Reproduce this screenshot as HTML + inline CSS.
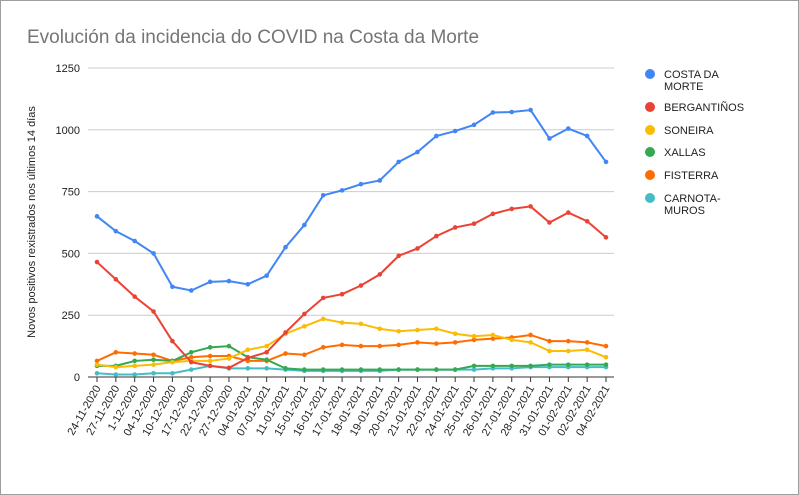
<!DOCTYPE html>
<html><head><meta charset="utf-8"><style>
body{margin:0;background:#fff}
svg{display:block;font-family:"Liberation Sans",Arial,sans-serif}
</style></head><body>
<svg id="s" width="799" height="495" xmlns="http://www.w3.org/2000/svg">
<rect x="0.5" y="0.5" width="798" height="494" fill="#fff" stroke="#9e9e9e"/>
<text x="27" y="43" font-size="19" fill="#757575">Evolución da incidencia do COVID na Costa da Morte</text>
<text transform="translate(35,222) rotate(-90)" font-size="11" fill="#222" text-anchor="middle">Novos positivos rexistrados nos últimos 14 días</text>
<g id="g"></g>
</svg>
<script>
const g=document.getElementById('g');
const ns='http://www.w3.org/2000/svg';
let h='';
const x0=97,dx=509/27,Y=v=>377-v*309/1250;
[0,250,500,750,1000,1250].forEach(v=>{
 const y=Y(v);
 if(v>0)h+=`<line x1="88" x2="614" y1="${y}" y2="${y}" stroke="#ccc"/>`;
 h+=`<text x="80" y="${y+4}" font-size="11" text-anchor="end" fill="#222">${v}</text>`;
});
h+=`<line x1="88" x2="614" y1="377" y2="377" stroke="#333"/>`;
const d=["24-11-2020","27-11-2020","1-12-2020","04-12-2020","10-12-2020","17-12-2020","22-12-2020","27-12-2020","04-01-2021","07-01-2021","11-01-2021","15-01-2021","16-01-2021","17-01-2021","18-01-2021","19-01-2021","20-01-2021","21-01-2021","22-01-2021","24-01-2021","25-01-2021","26-01-2021","27-01-2021","28-01-2021","31-01-2021","01-02-2021","02-02-2021","04-02-2021"];
d.forEach((t,i)=>{const x=x0+dx*i;
 h+=`<line x1="${x}" x2="${x}" y1="377" y2="382" stroke="#333"/>`;
 h+=`<text transform="translate(${x+4},388) rotate(-60)" font-size="11" text-anchor="end" fill="#222">${t}</text>`;});
const S=[
["#4285f4",[650,590,550,500,365,350,385,388,375,410,525,615,735,755,780,795,870,910,975,995,1020,1070,1072,1080,965,1005,975,870]],
["#ea4335",[465,395,325,265,145,60,45,37,77,100,180,255,320,335,370,415,490,520,570,605,620,660,680,690,625,665,630,565]],
["#fbbc04",[50,40,45,50,60,65,65,75,110,125,175,205,235,220,215,195,185,190,195,175,165,170,150,140,105,105,110,80]],
["#34a853",[45,45,65,70,65,100,120,125,80,70,35,30,30,30,30,30,30,30,30,30,45,45,45,45,50,50,50,50]],
["#ff6d01",[65,100,95,90,65,80,85,85,65,65,95,90,120,130,125,125,130,140,135,140,150,155,160,170,145,145,140,125]],
["#46bdc6",[15,10,10,15,15,30,45,35,35,35,30,25,25,25,25,25,30,30,30,30,30,35,35,40,40,40,40,40]]];
S.slice().reverse().forEach(([c,v])=>{
 h+=`<polyline fill="none" stroke="${c}" stroke-width="2" points="${v.map((a,i)=>(x0+dx*i)+','+Y(a)).join(' ')}"/>`;
 v.forEach((a,i)=>h+=`<circle cx="${x0+dx*i}" cy="${Y(a)}" r="2.3" fill="${c}"/>`);
});
const L=[["COSTA DA","MORTE"],["BERGANTIÑOS"],["SONEIRA"],["XALLAS"],["FISTERRA"],["CARNOTA-","MUROS"]];
const ly=[74,107,130,152,175,198];
L.forEach((t,i)=>{h+=`<circle cx="650" cy="${ly[i]}" r="5" fill="${S[i][0]}"/>`;
 t.forEach((s,j)=>h+=`<text x="664" y="${ly[i]+4+j*12}" font-size="11" fill="#222">${s}</text>`);});
g.innerHTML=h;
</script>
</body></html>
